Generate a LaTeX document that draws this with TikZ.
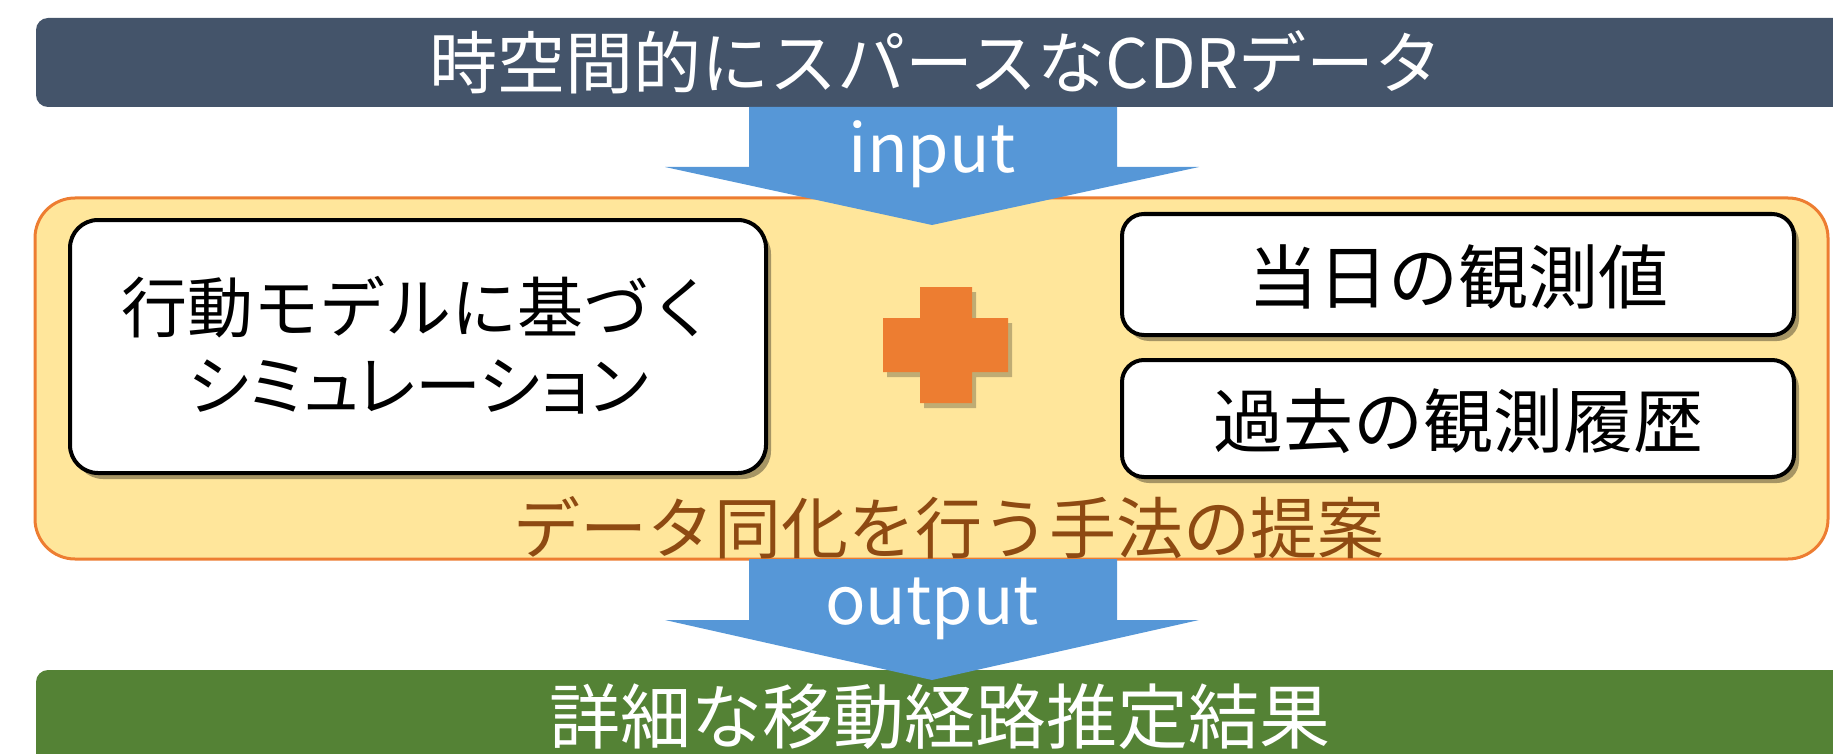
\documentclass[tikz,border=0pt]{standalone}
\usepackage{fontspec}
\setmainfont{Noto Sans CJK JP}
\newfontfamily\jpprop[RawFeature=+palt]{Noto Sans CJK JP}
\usetikzlibrary{shadows}
\definecolor{topc}{HTML}{44546A}
\definecolor{greenc}{HTML}{548235}
\definecolor{goldc}{HTML}{FFE69B}
\definecolor{orangec}{HTML}{ED7D31}
\definecolor{brownc}{HTML}{8E4A12}
\definecolor{bluec}{HTML}{5697D7}
\tikzset{
  bar/.style={rounded corners=12pt, inner sep=0pt, outer sep=0pt},
  whitebox/.style={draw=black, line width=4pt, fill=white, inner sep=0pt,
    drop shadow={shadow xshift=5pt, shadow yshift=-6pt, opacity=0.35, fill=black}},
  bigarrow/.style={fill=bluec, draw=none},
  plusshape/.style={fill=orangec, draw=none,
    drop shadow={shadow xshift=4pt, shadow yshift=-5pt, opacity=0.25, fill=black}},
  jtext/.style={inner sep=0pt, font=\fontsize{70}{78}\selectfont, align=center},
  atext/.style={inner sep=0pt, text=white, font=\fontsize{67}{70}\selectfont},
}
\begin{document}
\begin{tikzpicture}[x=1pt,y=-1pt]
\useasboundingbox (0,0) rectangle (1833,754);
\clip (0,0) rectangle (1833,754);
% top bar
\node[bar, fill=topc, minimum width=1824pt, minimum height=89pt] (top) at (948,62.5) {};
\node[jtext, text=white, font=\fontsize{68}{78}\selectfont] (toptext) at (936,62) {時空間的にスパースなCDRデータ};
% orange method box
\node[draw=orangec, line width=3pt, fill=goldc, rounded corners=40pt,
      minimum width=1793pt, minimum height=361pt, inner sep=0pt] (method) at (931.5,378.5) {};
% left box
\node[whitebox, rounded corners=28pt, minimum width=696pt, minimum height=253pt] (sim) at (418,346.5) {};
\node[jtext, font=\fontsize{66}{78}\selectfont] (simtext) at (418,345) {行動モデルに基づく\\{\jpprop シミュレーション}};
% right boxes
\node[whitebox, rounded corners=22pt, minimum width=672pt, minimum height=121pt] (today) at (1458,274.5) {};
\node[jtext] (todaytext) at (1458,277) {当日の観測値};
\node[whitebox, rounded corners=22pt, minimum width=672pt, minimum height=117pt] (past) at (1458,418.5) {};
\node[jtext] (pasttext) at (1458,421) {過去の観測履歴};
% plus sign
\coordinate (pc) at (946,345);
\path[plusshape] ([shift={(-26,-58)}]pc) -- ([shift={(26,-58)}]pc) -- ([shift={(26,-27)}]pc)
  -- ([shift={(62,-27)}]pc) -- ([shift={(62,27)}]pc) -- ([shift={(26,27)}]pc)
  -- ([shift={(26,58)}]pc) -- ([shift={(-26,58)}]pc) -- ([shift={(-26,27)}]pc)
  -- ([shift={(-63,27)}]pc) -- ([shift={(-63,-27)}]pc) -- ([shift={(-26,-27)}]pc) -- cycle;
% method label
\node[jtext, text=brownc, font=\fontsize{67}{70}\selectfont] (methodtext) at (949,528) {データ同化を行う手法の提案};
% green bar
\node[bar, fill=greenc, minimum width=1824pt, minimum height=110pt] (result) at (948,725) {};
\node[jtext, text=white, font=\fontsize{71}{78}\selectfont] (resulttext) at (940,717) {詳細な移動経路推定結果};
% input arrow
\fill[bigarrow] (749,107) -- (1117,107) -- (1117,167) -- (1199,167) -- (932,225) -- (665,167) -- (749,167) -- cycle;
\node[atext] (inputtext) at (932,154) {input};
% output arrow
\fill[bigarrow] (749,559) -- (1117,559) -- (1117,620) -- (1199,620) -- (932,680) -- (665,620) -- (749,620) -- cycle;
\node[atext] (outputtext) at (932,609) {output};
\end{tikzpicture}
\end{document}
